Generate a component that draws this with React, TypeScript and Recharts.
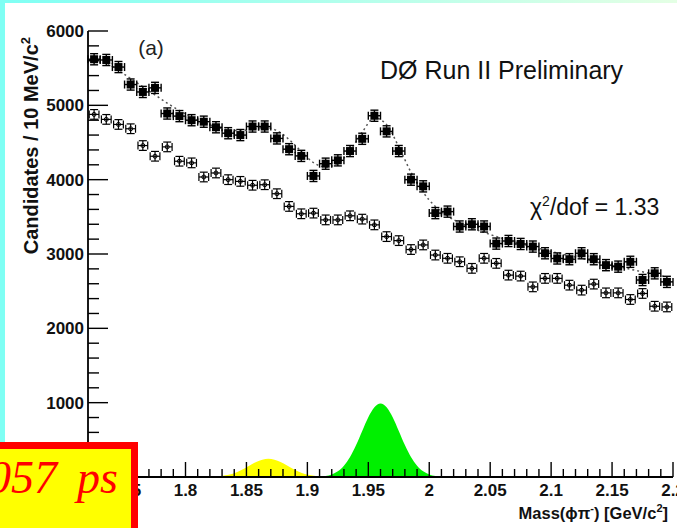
import React from 'react';
import { ComposedChart, XAxis, YAxis, Scatter, ErrorBar, Area, Line } from 'recharts';

// ---- data ----
const binCenters = [
  1.725, 1.735, 1.745, 1.755, 1.765, 1.775, 1.785, 1.795, 1.805, 1.815, 1.825, 1.835,
  1.845, 1.855, 1.865, 1.875, 1.885, 1.895, 1.905, 1.915, 1.925, 1.935, 1.945, 1.955,
  1.965, 1.975, 1.985, 1.995, 2.005, 2.015, 2.025, 2.035, 2.045, 2.055, 2.065, 2.075,
  2.085, 2.095, 2.105, 2.115, 2.125, 2.135, 2.145, 2.155, 2.165, 2.175, 2.185, 2.195,
];

const filledCounts = [
  5620, 5610, 5515, 5280, 5180, 5235, 4890, 4855, 4800, 4780, 4705, 4625,
  4600, 4715, 4715, 4555, 4410, 4320, 4050, 4215, 4260, 4385, 4550, 4860,
  4650, 4385, 4000, 3910, 3550, 3570, 3370, 3400, 3370, 3140, 3175, 3135,
  3100, 3010, 2940, 2930, 3010, 2930, 2850, 2830, 2895, 2650, 2740, 2625,
];

const openCounts = [
  4878, 4811, 4743, 4685, 4459, 4315, 4441, 4248, 4226, 4036, 4090, 4000,
  3977, 3925, 3932, 3811, 3640, 3541, 3550, 3459, 3459, 3514, 3469, 3392,
  3234, 3180, 3060, 3122, 2986, 2942, 2896, 2807, 2942, 2874, 2716, 2703,
  2558, 2672, 2672, 2581, 2514, 2595, 2477, 2477, 2388, 2469, 2297, 2288,
];

const fitCounts = [
  5650, 5570, 5470, 5360, 5250, 5140, 5030, 4930, 4840, 4770, 4710, 4670,
  4660, 4680, 4700, 4660, 4540, 4380, 4230, 4170, 4220, 4390, 4640, 4830,
  4740, 4440, 4100, 3830, 3640, 3510, 3420, 3350, 3290, 3235, 3185, 3140,
  3095, 3055, 3015, 2975, 2940, 2900, 2865, 2830, 2795, 2760, 2725, 2690,
];

const filledErrY = 75;
const openErrY = 65;
const filledErrX = 0.005;
const openErrX = 0.004;

const dsMass = [
  1.900, 1.905, 1.910, 1.915, 1.920, 1.925, 1.930, 1.935, 1.940, 1.945, 1.950, 1.955,
  1.960, 1.965, 1.970, 1.975, 1.980, 1.985, 1.990, 1.995, 2.000, 2.005, 2.010, 2.015, 2.020,
];
const dsSignal = [
  0, 2, 5, 15, 35, 77, 152, 270, 430, 620, 805, 940,
  990, 940, 805, 620, 430, 270, 152, 77, 35, 15, 5, 2, 0,
];

const dMass = [
  1.818, 1.823, 1.828, 1.833, 1.838, 1.843, 1.848, 1.853, 1.858, 1.863, 1.868,
  1.873, 1.878, 1.883, 1.888, 1.893, 1.898, 1.903, 1.908, 1.913, 1.918,
];
const dSignal = [
  0, 5, 11, 22, 42, 72, 112, 158, 202, 233, 245,
  233, 202, 158, 112, 72, 42, 22, 11, 5, 0,
];

const xMajorTicks = [1.75, 1.8, 1.85, 1.9, 1.95, 2, 2.05, 2.1, 2.15, 2.2];
const yMajorTicks = [0, 1000, 2000, 3000, 4000, 5000, 6000];
const yLabelledTicks = [1000, 2000, 3000, 4000, 5000, 6000];

// ---- derived tables ----
const filledRows = binCenters.map((x, i) => ({ x, y: filledCounts[i], ex: filledErrX, ey: filledErrY }));
const openRows = binCenters.map((x, i) => ({ x, y: openCounts[i], ex: openErrX, ey: openErrY }));
const fitRows = binCenters.map((x, i) => ({ x, y: fitCounts[i] }));
const dsRows = dsMass.map((x, i) => ({ x, y: dsSignal[i] }));
const dRows = dMass.map((x, i) => ({ x, y: dSignal[i] }));

const xTicks = Array.from({ length: 49 }, (_, i) => Math.round((1.72 + i * 0.01) * 100) / 100);
const yTicks = Array.from({ length: 31 }, (_, i) => i * 200);

const FONT = 'Liberation Sans, Arial, Helvetica, sans-serif';

const XTick = (props: any) => {
  const { x, y, payload } = props;
  const v = payload.value;
  const major = xMajorTicks.some((t) => Math.abs(t - v) < 1e-6);
  return (
    <g>
      <line x1={x} x2={x} y1={y} y2={y - (major ? 15 : 8)} stroke="#000" strokeWidth={1.4} />
      {major && (
        <text x={x} y={y + 19} textAnchor="middle" fontSize={17} fontWeight="bold" fontFamily={FONT} fill="#111">
          {String(Number(v.toFixed(2)))}
        </text>
      )}
    </g>
  );
};

const YTick = (props: any) => {
  const { x, y, payload } = props;
  const v = payload.value;
  const major = yMajorTicks.includes(v);
  const labelled = yLabelledTicks.includes(v);
  return (
    <g>
      <line x1={x} x2={x + (major ? 20 : 11)} y1={y} y2={y} stroke="#000" strokeWidth={1.4} />
      {labelled && (
        <text x={x - 4} y={y + 6} textAnchor="end" fontSize={17} fontWeight="bold" fontFamily={FONT} fill="#111">
          {v}
        </text>
      )}
    </g>
  );
};

const FilledMarker = (props: any) => {
  const { cx, cy } = props;
  return <rect x={cx - 4} y={cy - 4} width={8} height={8} fill="#000" />;
};

const OpenMarker = (props: any) => {
  const { cx, cy } = props;
  return <circle cx={cx} cy={cy} r={2} fill="none" stroke="#000" strokeWidth={1} />;
};

export default function App() {
  return (
    <div style={{ position: 'absolute', left: 0, top: 0, width: 677, height: 528, background: '#fff', overflow: 'hidden' }}>
      <ComposedChart width={677} height={528} margin={{ top: 31, right: 4, bottom: 0, left: 0 }}>
        <XAxis
          dataKey="x"
          type="number"
          domain={[1.72, 2.2]}
          ticks={xTicks}
          interval={0}
          tickSize={0}
          tickMargin={0}
          tickLine={false}
          tick={<XTick />}
          axisLine={{ stroke: '#000', strokeWidth: 1.8 }}
          height={51}
          allowDataOverflow
        />
        <XAxis
          xAxisId="top"
          orientation="top"
          dataKey="x"
          type="number"
          domain={[1.72, 2.2]}
          tick={false}
          tickLine={false}
          height={0}
          axisLine={{ stroke: '#000', strokeWidth: 1.8 }}
          allowDataOverflow
        />
        <YAxis
          type="number"
          domain={[0, 6000]}
          ticks={yTicks}
          interval={0}
          tickSize={0}
          tickMargin={0}
          tickLine={false}
          tick={<YTick />}
          width={88}
          axisLine={{ stroke: '#000', strokeWidth: 1.8 }}
          allowDataOverflow
        />
        <YAxis
          yAxisId="right"
          orientation="right"
          type="number"
          domain={[0, 6000]}
          tick={false}
          tickLine={false}
          width={0}
          axisLine={{ stroke: '#000', strokeWidth: 1.8 }}
        />
        <Area data={dRows} dataKey="y" type="monotone" stroke="none" fill="#FFFF00" fillOpacity={1} isAnimationActive={false} />
        <Area data={dsRows} dataKey="y" type="monotone" stroke="none" fill="#00F000" fillOpacity={1} isAnimationActive={false} />
        <Line data={fitRows} dataKey="y" type="monotone" stroke="#555" strokeWidth={1.5} strokeDasharray="2 3" dot={false} isAnimationActive={false} />
        <Scatter data={openRows} dataKey="y" shape={<OpenMarker />} isAnimationActive={false}>
          <ErrorBar dataKey="ey" direction="y" width={4} stroke="#000" strokeWidth={1.2} />
          <ErrorBar dataKey="ex" direction="x" width={4} stroke="#000" strokeWidth={1.2} />
        </Scatter>
        <Scatter data={filledRows} dataKey="y" shape={<FilledMarker />} isAnimationActive={false}>
          <ErrorBar dataKey="ey" direction="y" width={4} stroke="#000" strokeWidth={1.4} />
          <ErrorBar dataKey="ex" direction="x" width={4} stroke="#000" strokeWidth={1.4} />
        </Scatter>
      </ComposedChart>
      <svg width={677} height={528} style={{ position: 'absolute', left: 0, top: 0, pointerEvents: 'none' }}>
        <defs>
          <linearGradient id="topStrip" x1="0" x2="1" y1="0" y2="0">
            <stop offset="0" stopColor="#7FFFF4" />
            <stop offset="1" stopColor="#E4FFE4" />
          </linearGradient>
        </defs>
        <rect x={0} y={0} width={677} height={3} fill="url(#topStrip)" />
        <rect x={0} y={0} width={5} height={445} fill="#7FFFF4" />

        <text x={151} y={55} textAnchor="middle" fontSize={21} fontFamily={FONT} fill="#222">(a)</text>
        <text x={380} y={79} fontSize={25} fontFamily={FONT} fill="#111">DØ  Run II Preliminary</text>
        <text x={530} y={215} fontSize={23} fontFamily={FONT} fill="#111">
          χ<tspan dy={-9} fontSize={14}>2</tspan><tspan dy={9}>/dof = 1.33</tspan>
        </text>

        <text transform="translate(38,37) rotate(-90)" textAnchor="end" fontSize={20} fontWeight="bold" fontFamily={FONT} fill="#111">
          Candidates / 10 MeV/c<tspan dy={-8} fontSize={13}>2</tspan>
        </text>
        <text x={668} y={519} textAnchor="end" fontSize={16.5} fontWeight="bold" fontFamily={FONT} fill="#111">
          Mass(ϕπ<tspan dy={-7} fontSize={11}>-</tspan><tspan dy={7}>)  [GeV/c</tspan><tspan dy={-7} fontSize={11}>2</tspan><tspan dy={7}>]</tspan>
        </text>

        <rect x={-10} y={445.5} width={144.5} height={100} fill="#FFFF00" stroke="#FF0000" strokeWidth={7} />
        <text y={493} fontSize={46} fontStyle="italic" fontFamily="Liberation Serif, Times New Roman, serif" fill="#FF0000">
          <tspan x={-12}>057</tspan><tspan x={77}>ps</tspan>
        </text>
      </svg>
    </div>
  );
}
